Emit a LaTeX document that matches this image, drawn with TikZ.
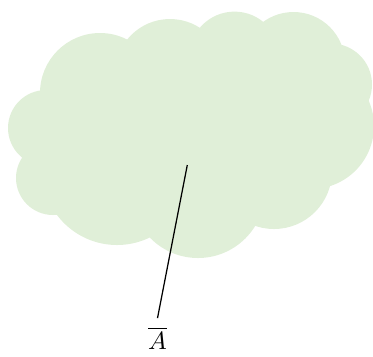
\documentclass[tikz,border=0pt]{standalone}
\definecolor{cloudgreen}{RGB}{224,239,216}
\begin{document}
\begin{tikzpicture}[x=0.4pt,y=-0.4pt,
  cloudfill/.style={fill=cloudgreen, draw=none},
  pointer/.style={draw=black, line width=0.5pt}]
\useasboundingbox (0,0) rectangle (373,356);
\begin{scope}
\clip (0,0) rectangle (373,356);
\fill[cloudfill]
  (100,93) circle[radius=60]
  (170,74) circle[radius=55]
  (234.5,57) circle[radius=45.4]
  (293.5,63.5) circle[radius=51.5]
  (331,84.5) circle[radius=41]
  (311,126) circle[radius=63]
  (274,171) circle[radius=58]
  (198,191) circle[radius=67]
  (117,170) circle[radius=75]
  (53,178) circle[radius=37]
  (46,128) circle[radius=38];
\fill[cloudfill] (100,93) -- (170,74) -- (234.5,57) -- (293.5,63.5) -- (331,84.5)
  -- (311,126) -- (274,171) -- (198,191) -- (117,170) -- (53,178) -- (46,128) -- cycle;
\end{scope}
\coordinate (p) at (187.3,165);
\node (lab) at (157.5,338) {$\overline{A}$};
\draw[pointer] (p) -- (lab.north);
\end{tikzpicture}
\end{document}
